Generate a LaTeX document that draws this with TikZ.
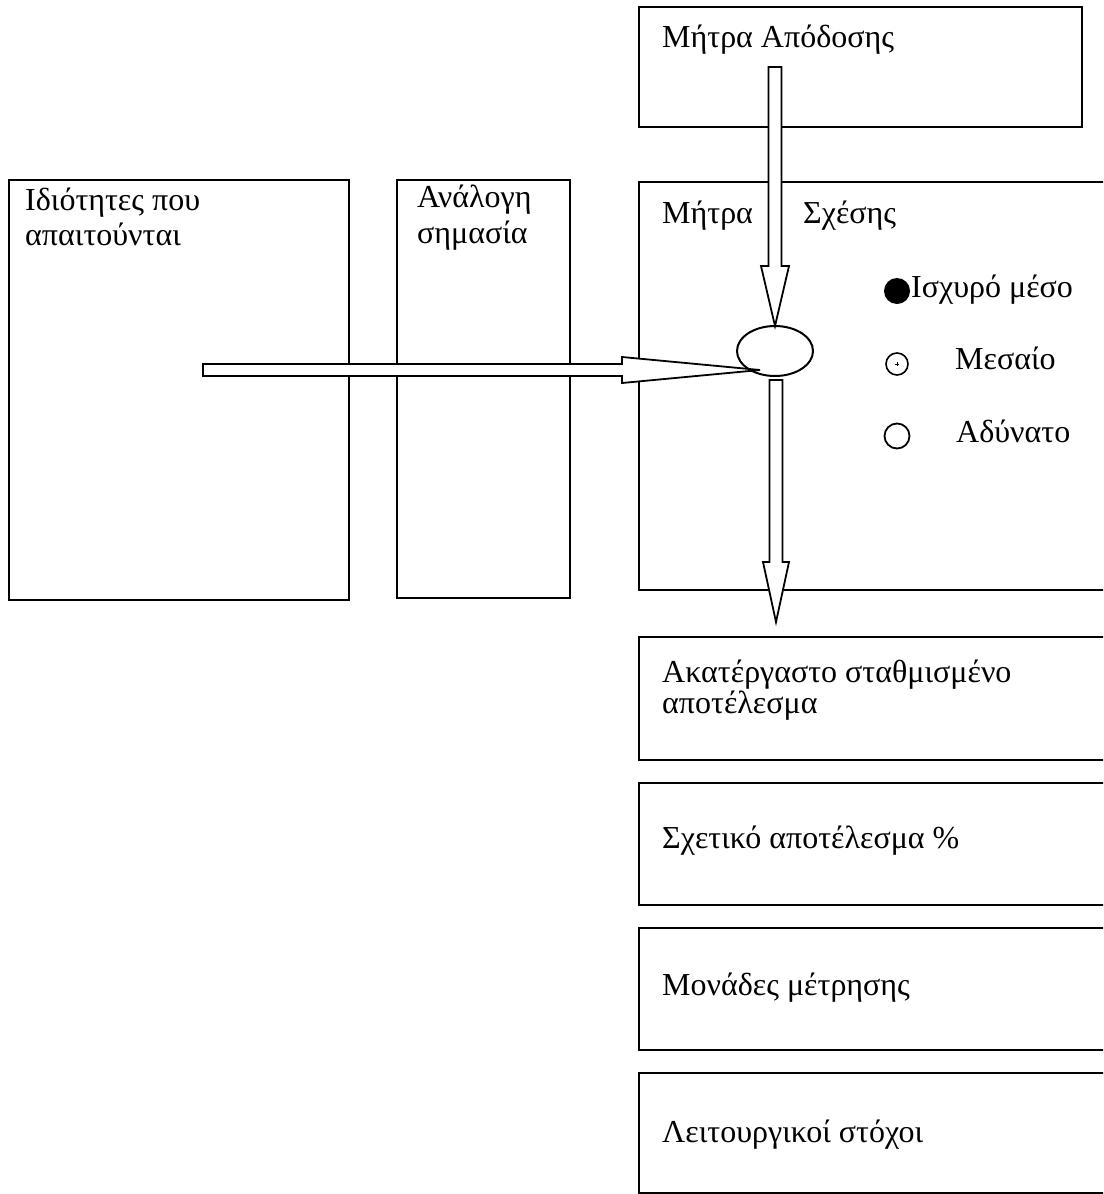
\documentclass[tikz,border=0pt]{standalone}
\usepackage{fontspec}
\setmainfont{Liberation Serif}
\usetikzlibrary{calc,shapes.geometric}
\begin{document}
\begin{tikzpicture}[x=1pt,y=-1pt,
  frame/.style={draw, line width=2pt, rectangle, anchor=north west, inner sep=0pt, outer sep=0pt},
  lbl/.style={anchor=base west, inner sep=0pt, font=\fontsize{32}{36}\selectfont},
  blockarrow/.style={draw, fill=white, line width=1.8pt, line join=miter},
]
\useasboundingbox (0,0) rectangle (1103,1194);
\clip (0,0) rectangle (1103,1194);

% boxes
\node[frame, minimum width=443pt, minimum height=120pt] (perf) at (639,7) {};
\node[frame, minimum width=480pt, minimum height=408pt] (rel) at (639,182) {};
\node[frame, minimum width=340pt, minimum height=420pt] (props) at (9,180) {};
\node[frame, minimum width=173pt, minimum height=418pt] (weight) at (397,180) {};
\node[frame, minimum width=480pt, minimum height=123pt] (raw) at (639,637) {};
\node[frame, minimum width=480pt, minimum height=122pt] (pct) at (639,783) {};
\node[frame, minimum width=480pt, minimum height=122pt] (units) at (639,928) {};
\node[frame, minimum width=480pt, minimum height=120pt] (goals) at (639,1073) {};

% box texts
\node[lbl] (tperf) at (662,47) {Μήτρα Απόδοσης};
\node[lbl] (trelA) at (662,223) {Μήτρα};
\node[lbl] (trelB) at (803,223) {Σχέσης};
\node[lbl] (tpropsA) at (25,210) {Ιδιότητες που};
\node[lbl] (tpropsB) at (25,245) {απαιτούνται};
\node[lbl] (tweightA) at (417,207) {Ανάλογη};
\node[lbl] (tweightB) at (417,243) {σημασία};
\node[lbl] (trawA) at (662,682) {Ακατέργαστο σταθμισμένο};
\node[lbl] (trawB) at (662,713) {αποτέλεσμα};
\node[lbl] (tpct) at (662,848) {Σχετικό αποτέλεσμα \%};
\node[lbl] (tunits) at (662,995) {Μονάδες μέτρησης};
\node[lbl] (tgoals) at (662,1142) {Λειτουργικοί στόχοι};

% legend
\node[circle, fill=black, minimum size=26pt, inner sep=0pt] (strong) at (897,291) {};
\node[lbl] (tstrong) at (911,297) {Ισχυρό μέσο};
\node[circle, draw, line width=1.6pt, minimum size=22pt, inner sep=0pt] (medium) at (897,364) {};
\draw[line width=0.8pt] ($(medium.center)+(-2,0)$) -- ($(medium.center)+(2,0)$)
  ($(medium.center)+(0,-2)$) -- ($(medium.center)+(0,2)$);
\node[lbl] (tmedium) at (955,369) {Μεσαίο};
\node[circle, draw, line width=1.8pt, minimum size=25pt, inner sep=0pt] (weak) at (897,436) {};
\node[lbl] (tweak) at (956,442) {Αδύνατο};

% arrow end points
\coordinate (hub) at (775,351);
\coordinate (tail) at (203,370);
\coordinate (htip) at (760,370);
\coordinate (dsrc) at (775,67);
\coordinate (usrc) at (776,380);
\coordinate (otip) at (776,622);

% block arrows
\draw[blockarrow] ($(tail)+(0,-6)$) -- ($(htip)+(-138,-6)$) -- ($(htip)+(-138,-13)$) -- (htip)
  -- ($(htip)+(-138,13)$) -- ($(htip)+(-138,6)$) -- ($(tail)+(0,6)$) -- cycle;
\draw[blockarrow] ($(dsrc)+(-6.5,0)$) -- ($(hub)+(-6.5,-85)$) -- ($(hub)+(-14,-85)$) -- ($(hub)+(0,-25)$)
  -- ($(hub)+(14,-85)$) -- ($(hub)+(6.5,-85)$) -- ($(dsrc)+(6.5,0)$) -- cycle;
\draw[blockarrow] ($(usrc)+(-6.5,0)$) -- ($(otip)+(-6.5,-60)$) -- ($(otip)+(-13,-60)$) -- (otip)
  -- ($(otip)+(13,-60)$) -- ($(otip)+(6.5,-60)$) -- ($(usrc)+(6.5,0)$) -- cycle;

% central junction
\node[ellipse, draw, line width=2pt, minimum width=76pt, minimum height=50pt, inner sep=0pt] (junction) at (hub) {};
\end{tikzpicture}
\end{document}
